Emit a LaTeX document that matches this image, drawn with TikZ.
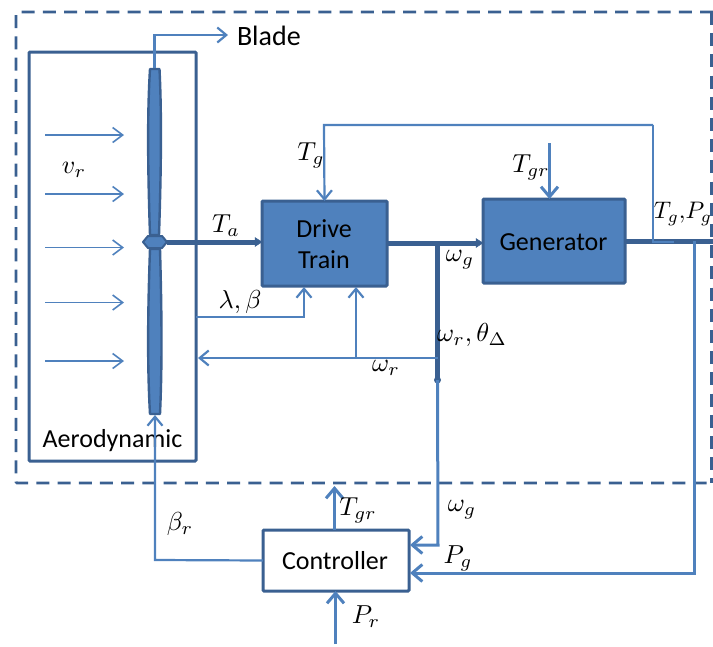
\documentclass[tikz,border=0pt]{standalone}
\usepackage{fontspec}
\setmainfont{Carlito}
\usetikzlibrary{arrows.meta,calc}
\definecolor{bfill}{HTML}{4F81BD}
\definecolor{bline}{HTML}{3A6091}
\tikzset{
  x=1pt,y=-1pt,
  lbl/.style={inner sep=0pt,outer sep=0pt,font=\fontsize{26}{30}\selectfont,text=black,align=center},
  mlbl/.style={inner sep=0pt,outer sep=0pt,scale=2.6,text=black},
  block/.style={draw=bline,fill=bfill,line width=3pt,rounded corners=1pt,inner sep=0pt,outer sep=0pt},
  whitebox/.style={draw=bline,line width=3pt,rounded corners=1pt,inner sep=0pt,outer sep=0pt},
  wire/.style={draw=bfill,line width=2.2pt,-{Straight Barb[length=9pt,width=15pt,line width=2.2pt]}},
  plainwire/.style={draw=bfill,line width=2.2pt},
  hwire/.style={draw=bfill,line width=3pt,-{Straight Barb[length=10pt,width=17pt,line width=3pt]}},
  shaft/.style={draw=bline,line width=5pt},
  wind/.style={draw=bfill,line width=1.6pt,-{Straight Barb[length=10pt,width=15pt,line width=1.6pt]}},
  bladepart/.style={draw=bline,fill=bfill,line width=2.4pt,line join=round},
}
\begin{document}
\begin{tikzpicture}
\useasboundingbox (0,0) rectangle (713,646);
% dashed frame
\draw[draw=bline,line width=2.8pt,dash pattern=on 13pt off 8.2pt,rounded corners=1pt]
  (713,12) -- (16,12) -- (16,483) -- (713,483);
\draw[draw=bline,line width=2.8pt,dash pattern=on 13pt off 8.2pt] (711.5,12) -- (711.5,483);
% boxes
\node[whitebox,minimum width=167pt,minimum height=409pt] (aero) at (112.5,256.5) {};
\node[block,minimum width=125pt,minimum height=85pt] (drive) at (324.5,243.5) {};
\node[block,minimum width=142pt,minimum height=84pt] (gen) at (554,241) {};
\node[whitebox,minimum width=146pt,minimum height=61pt] (ctrl) at (336,560.5) {};
\node[lbl] (drivetxt) at (324,244) {Drive\\[1pt]Train};
\node[lbl] (gentxt) at (553.5,242) {Generator};
\node[lbl] (ctrltxt) at (335,561) {Controller};
\node[lbl] (aerotxt) at (112.5,441) {Aerodynamic};
\node[lbl,anchor=west,font=\fontsize{28}{32}\selectfont] (bladetxt) at (237,36) {Blade};
% coordinates
\coordinate (bladetop) at (154.5,68);
\coordinate (bladebot) at (155,415);
\coordinate (hubr) at (167,242);
\coordinate (bladecorner) at (154.5,35);
\coordinate (bladeend) at (228,35);
\coordinate (gout) at (625,241);
\coordinate (rightedge) at (713,241);
\coordinate (junc) at (437.5,243);
\coordinate (jdot) at (437.5,380);
\coordinate (wcorner) at (438,545);
\coordinate (wctrl) at (410,545);
\coordinate (wrj) at (437.5,358);
\coordinate (wrb) at (356,358);
\coordinate (aeroR) at (198,358);
\coordinate (drivewr) at (356,287);
\coordinate (lbstart) at (196,317);
\coordinate (lbcorner) at (304,317);
\coordinate (drivelb) at (304,287);
\coordinate (tgtop1) at (324,125);
\coordinate (tgtop2) at (653,125);
\coordinate (tgj) at (653,242);
\coordinate (tgend) at (674,242);
\coordinate (pgj) at (694,241);
\coordinate (pgc) at (694,573);
\coordinate (pgctrl) at (410,573);
\coordinate (tgrtop) at (549.5,143);
\coordinate (brc) at (155,560);
\coordinate (tgrout) at (334.5,486);
\coordinate (prstart) at (335.5,644);
% wind arrows
\foreach \n/\yy in {a/135,b/194,c/247.5,d/302.5,e/361}{
  \coordinate (w\n s) at (45,\yy);
  \coordinate (w\n e) at (124,\yy);
  \draw[wind] (w\n s) -- (w\n e);
}
% blade
\draw[bladepart] (150,69) .. controls (147.5,110) and (147.5,160) .. (150,235)
  -- (159,235) .. controls (161.5,160) and (161.5,110) .. (159.5,69) -- cycle;
\draw[bladepart] (150,249) .. controls (147.5,320) and (147.5,370) .. (150,414)
  -- (160,414) .. controls (162,370) and (162,320) .. (160,249) -- cycle;
\draw[shaft] (hubr) -- (258,242);
\draw[draw=bline,fill=bfill,line width=2pt,line join=round] (143,242) -- (148,236) -- (162,236) -- (167,242) -- (162,248) -- (148,248) -- cycle;
% shafts
\draw[shaft] (drive.east |- junc) -- (478,243);
\draw[draw=bline,fill=bline] (483,243) -- (476,238.5) -- (476,247.5) -- cycle;
\draw[draw=bline,fill=bline] (262,242) -- (255,237.5) -- (255,246.5) -- cycle;
\draw[shaft] (junc) -- (jdot);
\fill[bline] (jdot) circle (3.5pt);
\draw[shaft] (gout) -- (rightedge);
% thin wires
\draw[wire] (bladetop) -- (bladecorner) -- (bladeend);
\draw[wire] (tgtop2) -- (tgtop1) -- (drive.north);
\draw[plainwire] (tgtop2) -- (tgj) -- (tgend);
\draw[hwire] (tgrtop) -- (gen.north -| tgrtop);
\draw[wire] (wrj) -- (aeroR);
\draw[wire] (wrb) -- (drivewr);
\draw[wire] (lbstart) -- (lbcorner) -- (drivelb);
\draw[hwire] (jdot) -- (wcorner) -- (wctrl);
\draw[hwire] (pgj) -- (pgc) -- (pgctrl);
\draw[wire] (ctrl.west) -- (brc) -- (bladebot);
\draw[hwire] (ctrl.north -| tgrout) -- (tgrout);
\draw[hwire] (prstart) -- (ctrl.south -| prstart);
% labels
\node[mlbl] (lvr) at (74,170) {$v_r$};
\node[mlbl] (lta) at (226,226) {$T_a$};
\node[mlbl] (ltg) at (311,155) {$T_g$};
\node[mlbl] (llb) at (240,302) {$\lambda,\beta$};
\node[mlbl] (ltgr) at (531,167) {$T_{gr}$};
\node[mlbl] (lwg) at (460,260) {$\omega_g$};
\node[mlbl] (lwt) at (472,335) {$\omega_r,\theta_\Delta$};
\node[mlbl] (lwr) at (386,368) {$\omega_r$};
\node[mlbl,scale=0.92] (ltp) at (683,214) {$T_g,\!P_g$};
\node[mlbl] (lbr) at (180,524) {$\beta_r$};
\node[mlbl] (ltgr2) at (358,510) {$T_{gr}$};
\node[mlbl] (lwg2) at (462,510) {$\omega_g$};
\node[mlbl] (lpg) at (458,558) {$P_g$};
\node[mlbl] (lpr) at (366,617) {$P_r$};
\end{tikzpicture}
\end{document}
